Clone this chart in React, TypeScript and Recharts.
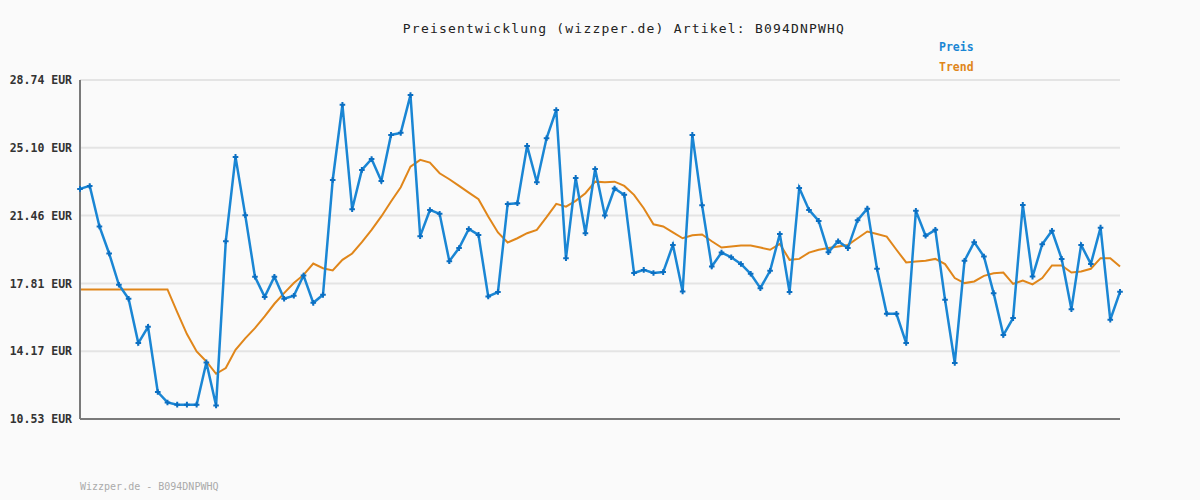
import React from "react";
import { LineChart, Line, XAxis, YAxis, CartesianGrid, ReferenceLine } from "recharts";

const preis: number[] = [
  22.89, 23.05, 20.87, 19.42, 17.74, 16.99, 14.61, 15.48, 11.98, 11.42,
  11.30, 11.30, 11.30, 13.57, 11.26, 20.08, 24.61, 21.48, 18.17, 17.09,
  18.17, 16.99, 17.15, 18.24, 16.77, 17.20, 23.37, 27.41, 21.80, 23.91,
  24.50, 23.32, 25.79, 25.90, 27.93, 20.35, 21.76, 21.55, 19.01, 19.71,
  20.74, 20.42, 17.11, 17.35, 22.08, 22.12, 25.20, 23.25, 25.61, 27.13,
  19.17, 23.48, 20.51, 23.96, 21.46, 22.91, 22.57, 18.37, 18.54, 18.37,
  18.42, 19.88, 17.38, 25.79, 22.01, 18.72, 19.47, 19.22, 18.86, 18.33,
  17.56, 18.49, 20.47, 17.35, 22.94, 21.76, 21.17, 19.49, 20.08, 19.71,
  21.21, 21.83, 18.60, 16.18, 16.18, 14.61, 21.71, 20.37, 20.69, 16.93,
  13.54, 19.03, 20.03, 19.26, 17.29, 15.04, 15.95, 22.03, 18.18, 19.92,
  20.64, 19.13, 16.43, 19.88, 18.86, 20.81, 15.86, 17.36,
];

const trend: number[] = [
  17.49, 17.49, 17.49, 17.49, 17.49, 17.49, 17.49, 17.49, 17.49, 17.49,
  16.27, 15.09, 14.16, 13.62, 12.96, 13.27, 14.25, 14.86, 15.41, 16.04,
  16.72, 17.29, 17.83, 18.27, 18.88, 18.63, 18.51, 19.08, 19.42, 20.03,
  20.69, 21.41, 22.21, 22.98, 24.09, 24.45, 24.30, 23.73, 23.41, 23.05,
  22.69, 22.34, 21.41, 20.55, 20.01, 20.24, 20.51, 20.69, 21.37, 22.09,
  21.94, 22.25, 22.66, 23.28, 23.25, 23.28, 23.05, 22.57, 21.85, 20.99,
  20.87, 20.55, 20.24, 20.40, 20.44, 20.08, 19.74, 19.80, 19.85, 19.85,
  19.74, 19.62, 19.94, 19.08, 19.13, 19.47, 19.62, 19.71, 19.80, 19.88,
  20.24, 20.60, 20.47, 20.33, 19.62, 18.94, 18.99, 19.03, 19.13, 18.85,
  18.10, 17.83, 17.92, 18.22, 18.36, 18.40, 17.79, 17.97, 17.76, 18.10,
  18.78, 18.78, 18.40, 18.45, 18.60, 19.17, 19.17, 18.72,
];

const yTicks: number[] = [10.53, 14.17, 17.81, 21.46, 25.1, 28.74];

const title = "Preisentwicklung (wizzper.de) Artikel: B094DNPWHQ";
const footer = "Wizzper.de - B094DNPWHQ";
const legendPreis = "Preis";
const legendTrend = "Trend";

const data = preis.map((p, i) => ({ idx: i, preis: p, trend: trend[i] }));

const MONO = "'DejaVu Sans Mono', monospace";

const Marker = (props: any) => {
  const { cx, cy } = props;
  if (cx == null || cy == null) return null;
  const s = 2.8;
  return (
    <path
      d={`M${cx - s},${cy} L${cx + s},${cy} M${cx},${cy - s} L${cx},${cy + s}`}
      stroke="#0b6fc2"
      strokeWidth={2}
      fill="none"
    />
  );
};

export default function App() {
  return (
    <div
      style={{
        position: "absolute",
        left: 0,
        top: 0,
        width: 1200,
        height: 500,
        background: "#fafafa",
        fontFamily: MONO,
      }}
    >
      <LineChart
        width={1200}
        height={500}
        data={data}
        margin={{ top: 80, right: 80, bottom: 81, left: 0 }}
      >
        <CartesianGrid
          vertical={false}
          stroke="#e4e4e4"
          strokeWidth={2}
        />
        <XAxis
          dataKey="idx"
          type="number"
          domain={[0, preis.length - 1]}
          tick={false}
          tickLine={false}
          height={0}
          axisLine={false}
        />
        <YAxis
          type="number"
          domain={[10.53, 28.74]}
          ticks={yTicks}
          width={80}
          tickLine={false}
          axisLine={{ stroke: "#7a7a7a", strokeWidth: 2 }}
          tickFormatter={(v: number) => `${v.toFixed(2)} EUR`}
          tick={{
            fontFamily: MONO,
            fontSize: 11.5,
            fontWeight: "bold",
            fill: "#333333",
          }}
          interval={0}
        />
        <ReferenceLine
          y={10.53}
          stroke="#7a7a7a"
          strokeWidth={2}
          ifOverflow="visible"
        />
        <Line
          type="linear"
          dataKey="trend"
          stroke="#e0861a"
          strokeWidth={2}
          dot={false}
          isAnimationActive={false}
        />
        <Line
          type="linear"
          dataKey="preis"
          stroke="#1a86d4"
          strokeWidth={2.5}
          dot={<Marker />}
          activeDot={false}
          isAnimationActive={false}
        />
      </LineChart>
      <div
        style={{
          position: "absolute",
          left: 0,
          width: 1248,
          top: 21,
          textAlign: "center",
          fontSize: 13,
          letterSpacing: 1.2,
          color: "#222",
          whiteSpace: "pre",
        }}
      >
        {title}
      </div>
      <div
        style={{
          position: "absolute",
          left: 939,
          top: 40,
          fontSize: 11.5,
          fontWeight: "bold",
          color: "#1a86d4",
        }}
      >
        {legendPreis}
      </div>
      <div
        style={{
          position: "absolute",
          left: 939,
          top: 60,
          fontSize: 11.5,
          fontWeight: "bold",
          color: "#e0861a",
        }}
      >
        {legendTrend}
      </div>
      <div
        style={{
          position: "absolute",
          left: 80,
          top: 481,
          fontSize: 10,
          color: "#aaaaaa",
          whiteSpace: "pre",
        }}
      >
        {footer}
      </div>
    </div>
  );
}
